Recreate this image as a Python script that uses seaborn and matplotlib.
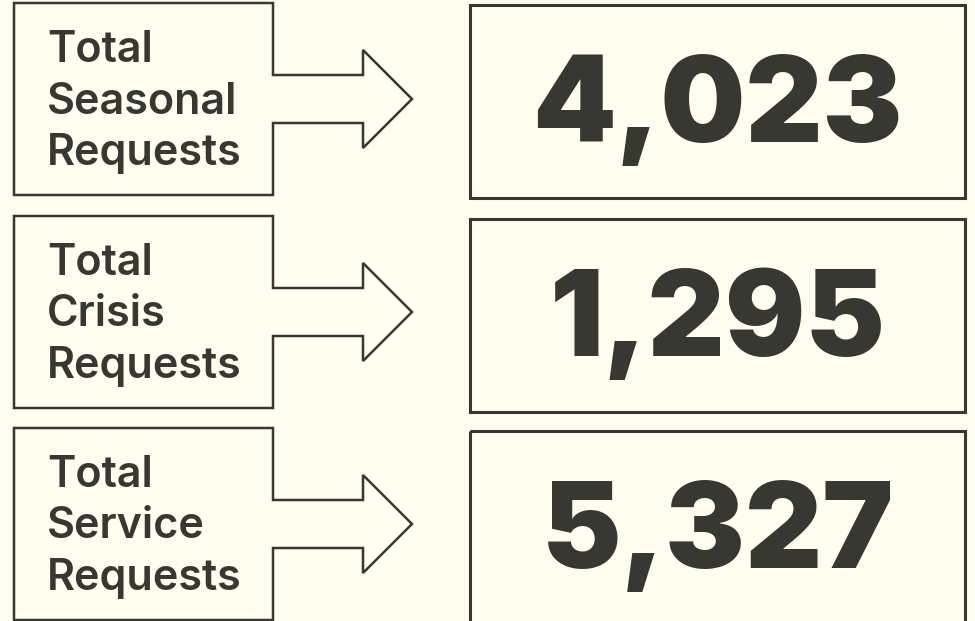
import matplotlib
matplotlib.use("Agg")
import matplotlib.pyplot as plt
from matplotlib.patches import Polygon, Rectangle
import seaborn as sns

# ---- data ----
categories = ["Total\nSeasonal\nRequests", "Total\nCrisis\nRequests", "Total\nService\nRequests"]
values = [4023, 1295, 5327]

# ---- style ----
BG = "#FFFDEF"
INK = "#383832"
sns.set_theme(style="white", rc={"figure.facecolor": BG, "axes.facecolor": BG})
plt.rcParams["font.family"] = ["Inter", "DejaVu Sans"]

W, H = 975, 621
fig = plt.figure(figsize=(W / 100, H / 100), dpi=100)
ax = fig.add_axes([0, 0, 1, 1])
ax.set_xlim(0, W)
ax.set_ylim(H, 0)
ax.axis("off")

# layout
lx0, lx1 = 14, 273
left_tops = [3, 216, 428]
left_h = 192
shaft_half, head_half = 24, 49
head_base, tip_x = 363, 412
rx0, rx1 = 470, 965
right_tops = [5, 219, 431]
right_h = 193
lw = 1.8

for i, (cat, val) in enumerate(zip(categories, values)):
    t = left_tops[i]
    b = t + left_h
    c = (t + b) / 2
    pts = [(lx0, t), (lx1, t), (lx1, c - shaft_half), (head_base, c - shaft_half),
           (head_base, c - head_half), (tip_x, c), (head_base, c + head_half),
           (head_base, c + shaft_half), (lx1, c + shaft_half), (lx1, b), (lx0, b)]
    ax.add_patch(Polygon(pts, closed=True, fill=False, edgecolor=INK, linewidth=lw,
                         joinstyle="miter"))
    for j, line in enumerate(cat.split("\n")):
        ax.text(47, t + 59 + j * 51.5, line, fontsize=31, fontweight="semibold",
                color=INK, ha="left", va="baseline")

    rt = right_tops[i]
    ax.add_patch(Rectangle((rx0, rt), rx1 - rx0, right_h, fill=False,
                           edgecolor=INK, linewidth=lw + 0.4))
    ax.text((rx0 + rx1) / 2, rt + 137, f"{val:,}", fontsize=86, fontweight="black",
            color=INK, ha="center", va="baseline")

fig.savefig("out.png", dpi=100, facecolor=BG)
